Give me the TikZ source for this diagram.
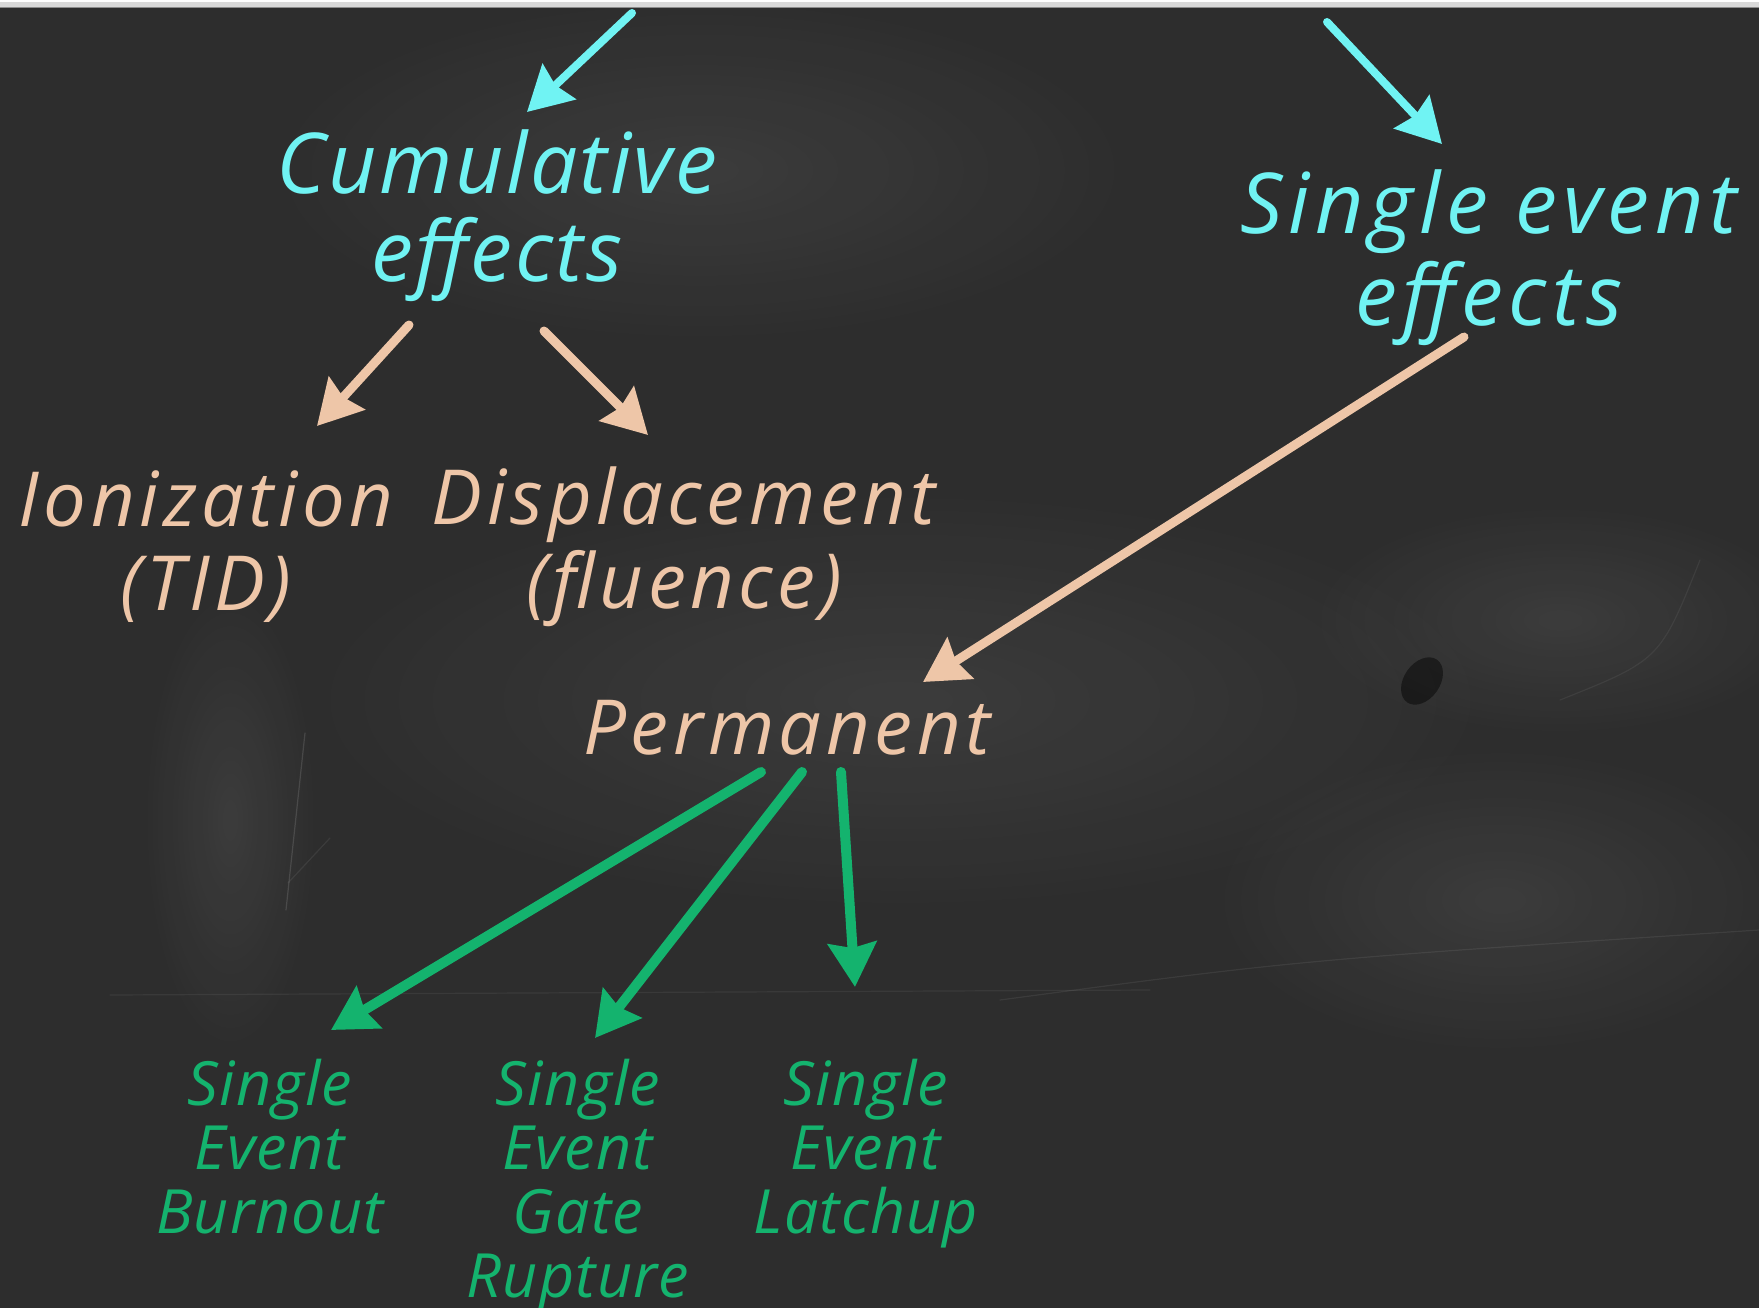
\documentclass[tikz,border=0pt]{standalone}
\usepackage{fontspec}
\setmainfont{Open Sans}
\usetikzlibrary{arrows.meta,calc,fadings}

\definecolor{board}{HTML}{2D2D2D}
\definecolor{chalkcyan}{HTML}{70F3F3}
\definecolor{chalkpeach}{HTML}{EEC6A8}
\definecolor{chalkgreen}{HTML}{14B36E}

% soft-edged patch of rubbed-out chalk
\tikzfading[name=softspot, inner color=transparent!0, outer color=transparent!100]

\tikzset{
  label/.style n args={3}{inner sep=0pt, align=center,
    font=\itshape\fontsize{#1}{#2}\selectfont\addfontfeature{LetterSpace=#3}},
  chalkarrow/.style={line width=#1, line cap=round,
    -{Stealth[length=44pt, width=48pt, inset=5pt]}},
  cyanarrow/.style={chalkarrow=8pt, draw=chalkcyan, fill=chalkcyan},
  peacharrow/.style={chalkarrow=9pt, draw=chalkpeach, fill=chalkpeach},
  greenarrow/.style={chalkarrow=10pt, draw=chalkgreen, fill=chalkgreen},
  smudge/.style={fill=white, opacity=0.07, path fading=softspot},
  scratch/.style={draw=white, opacity=0.12, line width=1.2pt, line cap=round},
}

\begin{document}
\begin{tikzpicture}[x=1pt, y=-1pt]
  \useasboundingbox (0,0) rectangle (1759,1308);

  % the board
  \fill[board] (0,0) rectangle (1759,1308);
  \fill[white!85!black] (0,0) rectangle (1759,8);
  \fill[white] (0,0) rectangle (1759,2.5);
  \draw[black!45, line width=1pt] (0,8) -- (1759,8);

  % chalk dust left on the board
  \fill[smudge] (900,700) ellipse [x radius=620pt, y radius=220pt];
  \fill[smudge] (1560,620) ellipse [x radius=260pt, y radius=120pt];
  \fill[smudge] (1500,900) ellipse [x radius=300pt, y radius=160pt];
  \fill[smudge] (700,170) ellipse [x radius=450pt, y radius=180pt];
  \fill[smudge] (230,820) ellipse [x radius=90pt, y radius=240pt];
  \fill[black, opacity=0.45, rotate around={-35:(1422,681)}]
    (1422,681) ellipse [x radius=18pt, y radius=26pt];
  \draw[scratch] (305,733) -- (286,910);
  \draw[scratch, opacity=0.07] (330,838) -- (288,883);
  \draw[scratch, opacity=0.06] (110,995) -- (1150,990);
  \draw[scratch, opacity=0.07] (1000,1000) .. controls (1300,960) .. (1759,930);
  \draw[scratch, opacity=0.06] (1560,700) .. controls (1660,660) .. (1700,560);

  % labels
  \node[label={84pt}{88pt}{3}, text=chalkcyan] (cum) at (497,216)
    {Cumulative\\effects};
  \node[label={84pt}{92pt}{7}, text=chalkcyan] (see) at (1489,258)
    {Single event\\effects};
  \node[label={76pt}{84pt}{6}, text=chalkpeach] (ion) at (206,547)
    {Ionization\\(TID)};
  \node[label={76pt}{84pt}{6}, text=chalkpeach] (disp) at (684,547)
    {Displacement\\(fluence)};
  \node[label={76pt}{84pt}{6}, text=chalkpeach, anchor=base] (perm) at (787,754)
    {Permanent};
  \node[label={61pt}{64pt}{2}, text=chalkgreen, anchor=north] (seb) at (270,1059)
    {Single\\Event\\Burnout};
  \node[label={61pt}{64pt}{2}, text=chalkgreen, anchor=north] (segr) at (578,1059)
    {Single\\Event\\Gate\\Rupture};
  \node[label={61pt}{64pt}{2}, text=chalkgreen, anchor=north] (sel) at (866,1059)
    {Single\\Event\\Latchup};

  % arrows coming in from above
  \coordinate (in1) at (632,13);
  \coordinate (in2) at (1327,22);
  \draw[cyanarrow] (in1) -- ($(cum)+(30,-104)$);
  \draw[cyanarrow] (in2) -- ($(see)+(-47,-114)$);

  % cumulative effects
  \draw[peacharrow] ($(cum)+(-88,109)$) -- ($(ion)+(111,-121)$);
  \draw[peacharrow] ($(cum)+(47,115)$) -- ($(disp)+(-36,-112)$);

  % single event effects
  \draw[peacharrow] ($(see)+(-25,79)$) -- ($(perm.base)+(136,-72)$);

  % permanent effects
  \draw[greenarrow] ($(perm.base)+(-26,18)$) -- ($(seb.north)+(61,-29)$);
  \draw[greenarrow] ($(perm.base)+(15,18)$) -- ($(segr.north)+(17,-21)$);
  \draw[greenarrow] ($(perm.base)+(54,18)$) -- ($(sel.north)+(-11,-72)$);
\end{tikzpicture}
\end{document}
